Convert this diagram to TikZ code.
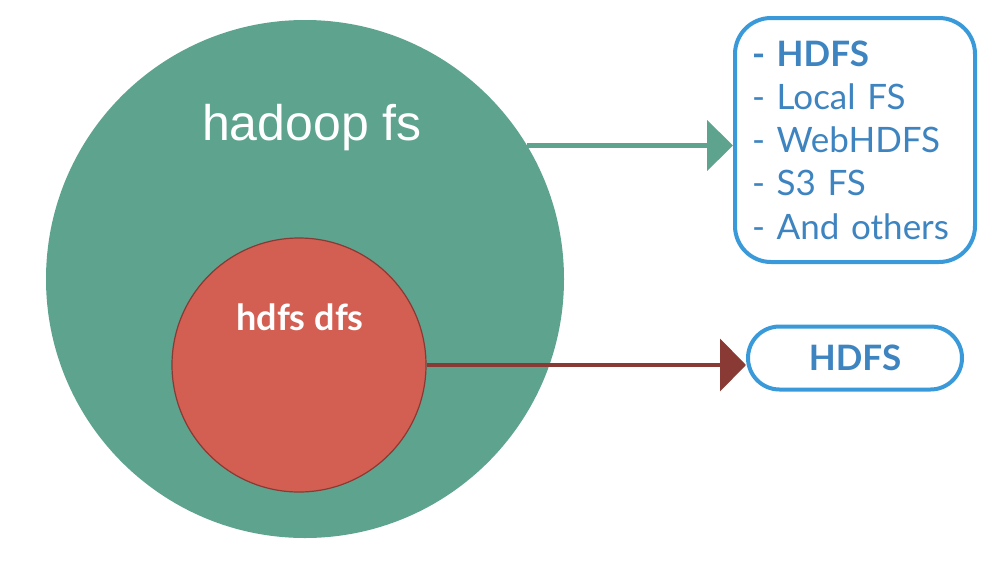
\documentclass[tikz,border=0pt]{standalone}
\usepackage{fontspec}
\setmainfont{Lato}
\newfontfamily\arialfont{Liberation Sans}
\usetikzlibrary{arrows.meta}
\definecolor{hgreen}{HTML}{5DA38E}
\definecolor{hred}{HTML}{D35E52}
\definecolor{hdarkred}{HTML}{8A3A34}
\definecolor{hblue}{HTML}{3A9AD9}
\definecolor{htext}{HTML}{3D84C0}
\tikzset{
  bigcircle/.style={circle, fill=hgreen, minimum size=518pt, inner sep=0pt},
  smallcircle/.style={circle, fill=hred, draw=hdarkred, line width=1.2pt, minimum size=254pt, inner sep=0pt},
  listbox/.style={draw=hblue, line width=4pt, rounded corners=36pt, fill=white,
    minimum width=240pt, minimum height=244pt, inner sep=0pt, text=htext,
    align=left, text width=206pt, font={\fontsize{35}{43.25}\selectfont}},
  pillbox/.style={draw=hblue, line width=4pt, rounded corners=31.5pt, fill=white,
    minimum width=214pt, minimum height=63pt, inner sep=0pt, text=htext,
    font={\fontsize{35}{40}\selectfont\bfseries}},
  greenarrow/.style={draw=hgreen, line width=5pt, -{Triangle[length=26pt,width=50pt]}},
  redarrow/.style={draw=hdarkred, line width=4.5pt, -{Triangle[length=26pt,width=52pt]}},
}
\begin{document}
\begin{tikzpicture}[x=1pt,y=-1pt]
\useasboundingbox (0,0) rectangle (996,560);
\node[bigcircle] (g) at (305,279) {};
\node[smallcircle] (r) at (299,365) {};
\node[text=white, font={\arialfont\fontsize{50}{60}\selectfont}, anchor=base] (gl) at (312,140) {hadoop fs};
\node[text=white, font={\fontsize{36}{40}\selectfont\bfseries}, anchor=base] (rl) at (300,330) {hdfs dfs};
\node[listbox] (b1) at (855,140) {\textbf{- HDFS}\\- Local FS\\- WebHDFS\\- S3 FS\\- And others};
\node[pillbox] (b2) at (855,358) {HDFS};
\draw[greenarrow] (g.31.2) -- (g.31.2 -| b1.west);
\draw[redarrow] (r.east) -- (r.east -| b2.west);
\end{tikzpicture}
\end{document}
